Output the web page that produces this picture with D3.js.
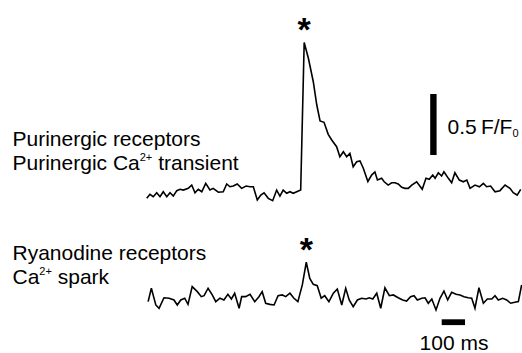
<!DOCTYPE html>
<html>
<head>
<meta charset="utf-8">
<script src="https://cdn.jsdelivr.net/npm/d3@7"></script>
<style>
  html, body { margin: 0; padding: 0; background: #fff; }
  svg { display: block; font-family: "Liberation Sans", Arial, sans-serif; }
</style>
</head>
<body>
<div id="chart"></div>
<script>
// purinergic Ca2+ transient (time in ms, fluorescence F/F0)
const purinergicTime = [0, 14, 28, 43, 57, 71, 86, 100, 114, 129, 143, 157, 178, 193, 207, 221, 236, 253, 271, 285,
  307, 328, 343, 357, 371, 388, 407, 426, 443, 457, 474, 489, 503, 521, 540, 557, 571, 585, 600, 614,
  628, 643, 660, 675, 693, 714, 729, 743, 760, 778, 793, 814, 828, 843, 857, 871, 885, 900, 914, 928,
  948, 964, 978, 989, 1007, 1018, 1035, 1050, 1064, 1078, 1093, 1107, 1121, 1136, 1157, 1181, 1197, 1211, 1226, 1236,
  1250, 1264, 1274, 1293, 1307, 1321, 1340, 1357, 1372, 1386, 1407, 1426, 1443, 1457, 1474, 1493, 1514, 1536, 1557, 1571,
  1588, 1603];
const purinergicValue = [0.948, 0.981, 0.961, 0.994, 0.961, 1.002, 0.961, 0.994, 0.967, 1.011, 1.022, 1.016, 1.030, 1.057, 0.994, 1.022, 1.002, 1.071, 1.016, 1.030,
  0.998, 1.002, 1.066, 1.043, 1.049, 1.066, 1.030, 1.049, 1.043, 1.043, 0.934, 0.975, 0.994, 0.948, 0.929, 1.016, 0.967, 1.016, 0.989, 1.002,
  0.989, 1.002, 1.016, 2.225, 2.096, 1.904, 1.713, 1.582, 1.571, 1.473, 1.426, 1.371, 1.289, 1.330, 1.289, 1.317, 1.207, 1.248, 1.254, 1.197,
  1.086, 1.139, 1.164, 1.098, 1.112, 1.084, 1.057, 1.076, 1.076, 1.066, 1.038, 1.030, 1.030, 1.057, 1.084, 1.022, 1.112, 1.104, 1.139, 1.112,
  1.158, 1.131, 1.166, 1.112, 1.076, 1.158, 1.098, 1.084, 1.098, 1.030, 1.057, 1.043, 1.071, 1.043, 1.049, 1.002, 1.011, 1.057, 1.030, 0.994,
  0.975, 1.022];

// ryanodine Ca2+ spark
const sparkTime = [6, 20, 39, 53, 74, 96, 117, 131, 146, 163, 177, 195, 217, 234, 246, 263, 281, 296, 314, 331,
  348, 363, 377, 396, 407, 424, 443, 463, 481, 495, 510, 528, 546, 563, 581, 596, 614, 631, 648, 667,
  684, 699, 714, 731, 748, 763, 781, 800, 817, 836, 853, 868, 885, 903, 921, 940, 954, 969, 986, 1003,
  1021, 1040, 1057, 1078, 1097, 1114, 1131, 1146, 1160, 1179, 1193, 1207, 1222, 1240, 1257, 1274, 1290, 1307, 1326, 1343,
  1360, 1378, 1393, 1407, 1424, 1443, 1460, 1479, 1493, 1507, 1526, 1543, 1560, 1578, 1593, 1607];
const sparkValue = [0.970, 1.080, 0.943, 0.916, 1.002, 0.998, 0.984, 0.943, 0.984, 0.998, 0.948, 1.093, 1.052, 1.011, 1.019, 1.080, 1.025, 0.970, 0.998, 0.984,
  1.030, 0.992, 1.039, 0.916, 1.011, 1.011, 1.030, 0.970, 1.011, 1.052, 0.957, 0.948, 0.943, 1.019, 1.025, 1.011, 1.039, 0.998, 0.970, 1.107,
  1.293, 1.161, 1.112, 1.101, 0.998, 1.019, 0.970, 1.039, 1.074, 0.943, 1.080, 0.984, 0.929, 0.984, 0.998, 0.992, 1.002, 0.992, 1.039, 0.916,
  1.084, 1.019, 1.025, 1.002, 0.984, 0.975, 1.011, 1.019, 0.984, 0.998, 1.002, 0.957, 0.992, 0.902, 0.998, 1.057, 0.984, 1.047, 1.030, 1.025,
  1.011, 1.002, 0.998, 0.916, 1.084, 0.957, 0.992, 0.992, 1.019, 0.984, 0.998, 0.984, 0.957, 0.965, 0.970, 1.107];

const scaleBarF = 0.5;    // F/F0
const scaleBarMs = 100;   // ms

const width = 522, height = 353;

const svg = d3.select('#chart').append('svg')
    .attr('width', width)
    .attr('height', height);

const x = d3.scaleLinear()
    .domain([0, 1600])
    .range([146.7, 520]);

const yTop = d3.scaleLinear()
    .domain([1, 1.5])
    .range([192, 131]);

const yBottom = d3.scaleLinear()
    .domain([1, 1.5])
    .range([298, 237]);

const drawTrace = (times, values, y) => {
    const pts = times.map((t, i) => [t, values[i]]);
    const line = d3.line()
        .x(d => x(d[0]))
        .y(d => y(d[1]));
    svg.append('path')
        .datum(pts)
        .attr('fill', 'none')
        .attr('stroke', '#000')
        .attr('stroke-width', 1.6)
        .attr('stroke-linejoin', 'miter')
        .attr('d', line);

    // asterisk over the peak
    const iMax = d3.maxIndex(values);
    svg.append('text')
        .attr('x', x(times[iMax]))
        .attr('y', y(values[iMax]) + 0)
        .attr('dy', '-0.05em')
        .attr('text-anchor', 'middle')
        .attr('font-size', 34)
        .attr('font-weight', 'bold')
        .text('*');
};

drawTrace(purinergicTime, purinergicValue, yTop);
drawTrace(sparkTime, sparkValue, yBottom);

// vertical scale bar, 0.5 F/F0
const barLen = yTop(1) - yTop(1 + scaleBarF);
svg.append('rect')
    .attr('x', 430.2)
    .attr('y', 94)
    .attr('width', 6.4)
    .attr('height', barLen)
    .attr('fill', '#000');

const fLabel = svg.append('text')
    .attr('x', 447.5)
    .attr('y', 133.5)
    .attr('font-size', 21);
fLabel.append('tspan').text(scaleBarF + '\u2009F/F');
fLabel.append('tspan').attr('font-size', 11).attr('dy', 3).text('0');

// horizontal scale bar, 100 ms
svg.append('rect')
    .attr('x', 441.7)
    .attr('y', 319.3)
    .attr('width', x(scaleBarMs) - x(0))
    .attr('height', 5.8)
    .attr('fill', '#000');

svg.append('text')
    .attr('x', 454)
    .attr('y', 350)
    .attr('text-anchor', 'middle')
    .attr('font-size', 21)
    .text(scaleBarMs + ' ms');

// labels
const label = (y, parts) => {
    const t = svg.append('text')
        .attr('x', 12.5)
        .attr('y', y)
        .attr('font-size', 21);
    parts.forEach(p => {
        if (p.sup) {
            t.append('tspan').attr('font-size', 11).attr('dy', -9).text(p.sup);
            t.append('tspan').attr('dy', 9).text('\u00a0');
        } else {
            t.append('tspan').text(p.text);
        }
    });
};

label(145.5, [{text: 'Purinergic receptors'}]);
label(170, [{text: 'Purinergic Ca'}, {sup: '2+'}, {text: 'transient'}]);
label(260, [{text: 'Ryanodine receptors'}]);
label(284, [{text: 'Ca'}, {sup: '2+'}, {text: 'spark'}]);
</script>
</body>
</html>
